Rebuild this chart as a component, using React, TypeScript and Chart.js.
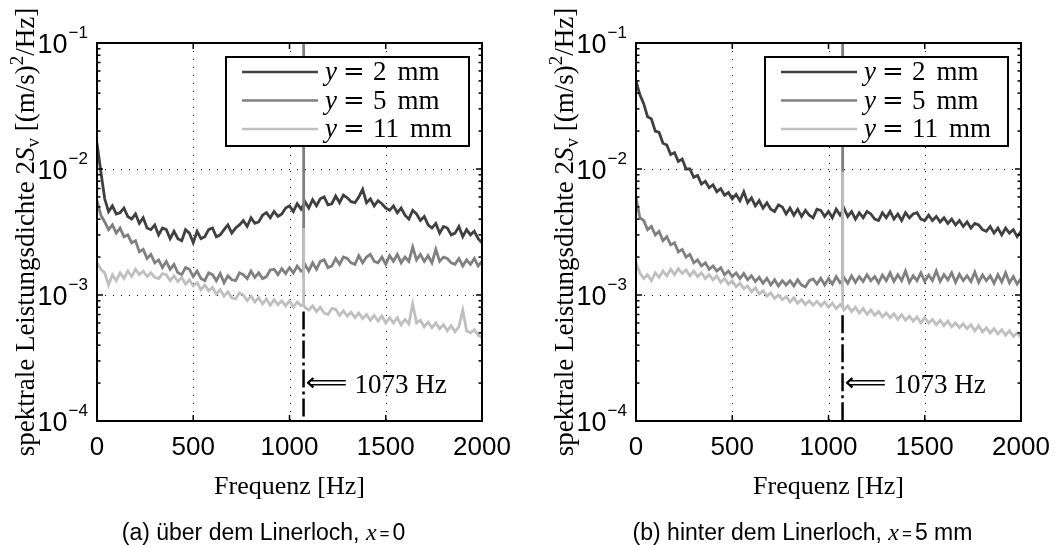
import React, { useEffect, useRef } from "react";
import { Chart, registerables } from "chart.js";

Chart.register(...registerables);

// ---------- data ----------
const FREQ = [
  0, 20, 40, 60, 80, 100, 120, 140, 160, 180,
  200, 220, 240, 260, 280, 300, 320, 340, 360, 380,
  400, 420, 440, 460, 480, 500, 520, 540, 560, 580,
  600, 620, 640, 660, 680, 700, 720, 740, 760, 780,
  800, 820, 840, 860, 880, 900, 920, 940, 960, 980,
  1000, 1020, 1040, 1060, 1072, 1073, 1074, 1080, 1100, 1120,
  1140, 1160, 1180, 1200, 1220, 1240, 1260, 1280, 1300, 1320,
  1340, 1360, 1380, 1400, 1420, 1440, 1460, 1480, 1500, 1520,
  1540, 1560, 1580, 1600, 1620, 1640, 1660, 1680, 1700, 1720,
  1740, 1760, 1780, 1800, 1820, 1840, 1860, 1880, 1900, 1920,
  1940, 1960, 1980, 2000,
];

// (a) über dem Linerloch, x = 0
const A_Y2 = [
  1.6e-2, 9.5e-3, 5.8e-3, 4.6e-3, 5.1e-3, 4.4e-3, 4.5e-3, 4.9e-3, 4.2e-3, 4.0e-3,
  4.4e-3, 3.7e-3, 4.1e-3, 3.4e-3, 3.3e-3, 3.6e-3, 3.0e-3, 3.4e-3, 3.3e-3, 2.8e-3,
  3.2e-3, 2.8e-3, 2.7e-3, 3.3e-3, 3.1e-3, 2.6e-3, 3.2e-3, 2.8e-3, 2.9e-3, 3.3e-3,
  3.4e-3, 2.9e-3, 3.0e-3, 3.3e-3, 3.6e-3, 3.1e-3, 3.4e-3, 3.6e-3, 3.9e-3, 3.5e-3,
  4.1e-3, 3.7e-3, 3.8e-3, 4.3e-3, 4.5e-3, 4.1e-3, 4.6e-3, 4.2e-3, 4.4e-3, 4.9e-3,
  5.1e-3, 4.6e-3, 5.3e-3, 4.8e-3, 5.2e-3, 5.3e-3, 5.2e-3, 5.5e-3, 4.9e-3, 5.7e-3,
  5.1e-3, 5.8e-3, 6.0e-3, 5.2e-3, 5.3e-3, 6.1e-3, 5.4e-3, 6.2e-3, 5.9e-3, 5.5e-3,
  5.4e-3, 6.0e-3, 6.9e-3, 5.4e-3, 5.8e-3, 5.1e-3, 5.6e-3, 5.3e-3, 4.9e-3, 4.7e-3,
  5.1e-3, 4.5e-3, 4.9e-3, 4.3e-3, 4.0e-3, 4.7e-3, 4.4e-3, 3.9e-3, 4.2e-3, 3.6e-3,
  3.4e-3, 3.7e-3, 3.1e-3, 3.5e-3, 3.4e-3, 3.0e-3, 3.1e-3, 3.5e-3, 2.9e-3, 3.3e-3,
  3.0e-3, 3.2e-3, 2.8e-3, 2.6e-3,
];
const A_Y5 = [
  5.6e-3, 4.3e-3, 3.8e-3, 3.3e-3, 3.6e-3, 3.1e-3, 3.4e-3, 2.9e-3, 3.0e-3, 2.6e-3,
  2.7e-3, 2.2e-3, 2.3e-3, 1.95e-3, 2.1e-3, 1.8e-3, 1.9e-3, 1.65e-3, 1.85e-3, 1.6e-3,
  1.75e-3, 1.5e-3, 1.45e-3, 1.65e-3, 1.6e-3, 1.4e-3, 1.55e-3, 1.35e-3, 1.3e-3, 1.5e-3,
  1.45e-3, 1.3e-3, 1.48e-3, 1.25e-3, 1.42e-3, 1.32e-3, 1.3e-3, 1.5e-3, 1.45e-3, 1.35e-3,
  1.55e-3, 1.38e-3, 1.5e-3, 1.35e-3, 1.4e-3, 1.58e-3, 1.6e-3, 1.45e-3, 1.62e-3, 1.48e-3,
  1.65e-3, 1.5e-3, 1.7e-3, 1.55e-3, 1.6e-3, 0.3, 1.6e-3, 1.75e-3, 1.55e-3, 1.8e-3,
  1.6e-3, 1.85e-3, 1.9e-3, 1.65e-3, 1.7e-3, 1.95e-3, 1.75e-3, 2.0e-3, 1.95e-3, 1.8e-3,
  1.75e-3, 2.05e-3, 1.8e-3, 2.0e-3, 2.1e-3, 1.85e-3, 1.8e-3, 2.0e-3, 1.75e-3, 2.05e-3,
  1.85e-3, 2.1e-3, 1.8e-3, 2.0e-3, 1.85e-3, 2.4e-3, 1.9e-3, 2.1e-3, 1.85e-3, 2.05e-3,
  1.8e-3, 2.3e-3, 1.85e-3, 2.0e-3, 1.95e-3, 1.8e-3, 1.75e-3, 1.95e-3, 1.7e-3, 1.9e-3,
  1.75e-3, 1.95e-3, 1.7e-3, 1.85e-3,
];
const A_Y11 = [
  1.8e-3, 1.6e-3, 1.5e-3, 1.2e-3, 1.45e-3, 1.3e-3, 1.5e-3, 1.35e-3, 1.55e-3, 1.4e-3,
  1.6e-3, 1.45e-3, 1.55e-3, 1.4e-3, 1.5e-3, 1.38e-3, 1.35e-3, 1.48e-3, 1.45e-3, 1.3e-3,
  1.42e-3, 1.28e-3, 1.38e-3, 1.22e-3, 1.32e-3, 1.18e-3, 1.25e-3, 1.1e-3, 1.2e-3, 1.08e-3,
  1.15e-3, 1.02e-3, 1.1e-3, 0.98e-3, 1.06e-3, 0.95e-3, 0.93e-3, 1.04e-3, 1.0e-3, 0.9e-3,
  0.98e-3, 0.88e-3, 0.95e-3, 0.85e-3, 0.93e-3, 0.83e-3, 0.92e-3, 0.84e-3, 0.9e-3, 0.82e-3,
  0.9e-3, 0.8e-3, 0.88e-3, 0.82e-3, 0.84e-3, 3.4e-3, 0.84e-3, 0.8e-3, 0.76e-3, 0.82e-3,
  0.74e-3, 0.8e-3, 0.72e-3, 0.7e-3, 0.78e-3, 0.77e-3, 0.69e-3, 0.75e-3, 0.68e-3, 0.73e-3,
  0.66e-3, 0.72e-3, 0.65e-3, 0.7e-3, 0.63e-3, 0.69e-3, 0.62e-3, 0.68e-3, 0.6e-3, 0.66e-3,
  0.6e-3, 0.66e-3, 0.58e-3, 0.64e-3, 0.59e-3, 0.85e-3, 0.6e-3, 0.63e-3, 0.56e-3, 0.61e-3,
  0.55e-3, 0.6e-3, 0.54e-3, 0.58e-3, 0.52e-3, 0.57e-3, 0.51e-3, 0.56e-3, 0.76e-3, 0.52e-3,
  0.5e-3, 0.53e-3, 0.48e-3, 0.46e-3,
];

// (b) hinter dem Linerloch, x = 5 mm
const B_Y2 = [
  5.0e-2, 3.9e-2, 3.3e-2, 2.6e-2, 2.5e-2, 2.0e-2, 1.95e-2, 1.6e-2, 1.55e-2, 1.3e-2,
  1.35e-2, 1.15e-2, 1.2e-2, 1.0e-2, 1.0e-2, 8.6e-3, 8.9e-3, 7.6e-3, 8.0e-3, 7.1e-3,
  7.5e-3, 6.6e-3, 7.0e-3, 6.2e-3, 6.5e-3, 5.8e-3, 6.3e-3, 5.6e-3, 6.6e-3, 5.4e-3,
  5.9e-3, 5.1e-3, 5.6e-3, 4.9e-3, 5.4e-3, 4.8e-3, 4.6e-3, 5.2e-3, 5.0e-3, 4.4e-3,
  4.9e-3, 4.3e-3, 4.8e-3, 4.2e-3, 4.7e-3, 4.3e-3, 4.1e-3, 4.8e-3, 4.7e-3, 4.2e-3,
  4.6e-3, 4.1e-3, 4.8e-3, 4.3e-3, 4.6e-3, 4.6e-3, 4.6e-3, 4.9e-3, 4.2e-3, 4.6e-3,
  4.0e-3, 4.5e-3, 4.1e-3, 4.6e-3, 4.4e-3, 4.0e-3, 3.9e-3, 4.5e-3, 4.1e-3, 4.6e-3,
  4.0e-3, 4.4e-3, 3.9e-3, 4.5e-3, 4.1e-3, 4.4e-3, 4.5e-3, 4.0e-3, 3.9e-3, 4.3e-3,
  3.9e-3, 4.2e-3, 3.8e-3, 4.1e-3, 3.7e-3, 4.0e-3, 3.6e-3, 3.9e-3, 3.5e-3, 3.8e-3,
  3.4e-3, 3.7e-3, 3.6e-3, 3.3e-3, 3.2e-3, 3.5e-3, 3.1e-3, 3.4e-3, 3.0e-3, 3.4e-3,
  3.1e-3, 3.3e-3, 2.9e-3, 3.2e-3,
];
const B_Y5 = [
  6.0e-3, 4.1e-3, 3.9e-3, 3.3e-3, 3.5e-3, 3.0e-3, 3.2e-3, 2.7e-3, 2.9e-3, 2.5e-3,
  2.6e-3, 2.2e-3, 2.3e-3, 2.0e-3, 2.1e-3, 1.8e-3, 1.9e-3, 1.7e-3, 1.8e-3, 1.6e-3,
  1.7e-3, 1.55e-3, 1.65e-3, 1.45e-3, 1.55e-3, 1.4e-3, 1.5e-3, 1.35e-3, 1.48e-3, 1.32e-3,
  1.42e-3, 1.28e-3, 1.38e-3, 1.24e-3, 1.36e-3, 1.2e-3, 1.32e-3, 1.18e-3, 1.3e-3, 1.2e-3,
  1.3e-3, 1.18e-3, 1.32e-3, 1.2e-3, 1.16e-3, 1.3e-3, 1.34e-3, 1.22e-3, 1.36e-3, 1.2e-3,
  1.35e-3, 1.22e-3, 1.4e-3, 1.25e-3, 1.3e-3, 0.3, 1.3e-3, 1.38e-3, 1.24e-3, 1.42e-3,
  1.26e-3, 1.4e-3, 1.28e-3, 1.45e-3, 1.3e-3, 1.4e-3, 1.25e-3, 1.44e-3, 1.3e-3, 1.5e-3,
  1.28e-3, 1.45e-3, 1.3e-3, 1.55e-3, 1.26e-3, 1.42e-3, 1.3e-3, 1.5e-3, 1.28e-3, 1.44e-3,
  1.3e-3, 1.55e-3, 1.28e-3, 1.45e-3, 1.32e-3, 1.5e-3, 1.26e-3, 1.46e-3, 1.3e-3, 1.42e-3,
  1.28e-3, 1.52e-3, 1.26e-3, 1.44e-3, 1.3e-3, 1.42e-3, 1.24e-3, 1.45e-3, 1.27e-3, 1.5e-3,
  1.25e-3, 1.4e-3, 1.22e-3, 1.35e-3,
];
const B_Y11 = [
  1.8e-3, 1.5e-3, 1.35e-3, 1.45e-3, 1.3e-3, 1.5e-3, 1.38e-3, 1.55e-3, 1.42e-3, 1.6e-3,
  1.45e-3, 1.62e-3, 1.48e-3, 1.58e-3, 1.42e-3, 1.55e-3, 1.4e-3, 1.5e-3, 1.35e-3, 1.45e-3,
  1.32e-3, 1.42e-3, 1.26e-3, 1.36e-3, 1.22e-3, 1.3e-3, 1.16e-3, 1.24e-3, 1.12e-3, 1.18e-3,
  1.06e-3, 1.14e-3, 1.02e-3, 1.08e-3, 0.98e-3, 1.04e-3, 0.94e-3, 1.0e-3, 0.92e-3, 0.97e-3,
  0.88e-3, 0.95e-3, 0.86e-3, 0.92e-3, 0.84e-3, 0.9e-3, 0.83e-3, 0.89e-3, 0.82e-3, 0.88e-3,
  0.8e-3, 0.86e-3, 0.78e-3, 0.84e-3, 0.8e-3, 9.5e-3, 0.8e-3, 0.76e-3, 0.82e-3, 0.74e-3,
  0.8e-3, 0.72e-3, 0.78e-3, 0.7e-3, 0.76e-3, 0.69e-3, 0.74e-3, 0.67e-3, 0.72e-3, 0.66e-3,
  0.71e-3, 0.64e-3, 0.7e-3, 0.63e-3, 0.68e-3, 0.62e-3, 0.67e-3, 0.6e-3, 0.66e-3, 0.6e-3,
  0.64e-3, 0.58e-3, 0.63e-3, 0.57e-3, 0.62e-3, 0.56e-3, 0.6e-3, 0.55e-3, 0.59e-3, 0.54e-3,
  0.58e-3, 0.52e-3, 0.57e-3, 0.51e-3, 0.55e-3, 0.5e-3, 0.54e-3, 0.49e-3, 0.53e-3, 0.48e-3,
  0.52e-3, 0.47e-3, 0.5e-3, 0.46e-3,
];

const SERIES_NAMES = ["2", "5", "11"];
const SERIES_COLORS = ["#404040", "#808080", "#bfbfbf"];
const X_TICKS = [0, 500, 1000, 1500, 2000];
const X_GRID = [500, 1000, 1500];
const Y_EXPONENTS = [-4, -3, -2, -1];
const Y_GRID = [1e-3, 1e-2];
const Y_MINOR = [2, 3, 4, 5, 6, 7, 8, 9];
const PEAK_HZ = 1073;
const PEAK_TEXT = "1073 Hz";
const PEAK_ARROW_Y = 1.95e-4;
const PEAK_LINE_TOP = [7.4e-4, 6.9e-4];
const X_TITLE = "Frequenz [Hz]";
const CAPTION_PREFIX = ["(a) über dem Linerloch, ", "(b) hinter dem Linerloch, "];
const CAPTION_VALUE = ["0", "5 mm"];

const SERIF = '"Liberation Serif", "Times New Roman", serif';
const SANS = '"Liberation Sans", Arial, sans-serif';
const H = 545;

type PanelProps = {
  idx: number;
  left: number;
  width: number;
  plotLeft: number;
  plotRight: number;
  series: number[][];
};

function drawSegments(ctx: CanvasRenderingContext2D, segs: { t: string; font: string; dy: number; gap?: number }[], x0: number, y0: number, align: "center" | "left") {
  let total = 0;
  const widths = segs.map((s) => {
    ctx.font = s.font;
    const w = ctx.measureText(s.t).width + (s.gap || 0);
    total += w;
    return w;
  });
  let x = align === "center" ? x0 - total / 2 : x0;
  ctx.textAlign = "left";
  ctx.textBaseline = "alphabetic";
  segs.forEach((s, i) => {
    ctx.font = s.font;
    ctx.fillText(s.t, x + (s.gap || 0) / 2, y0 + s.dy);
    x += widths[i];
  });
}

function Panel({ idx, left, width, plotLeft, plotRight, series }: PanelProps) {
  const ref = useRef<HTMLCanvasElement>(null);

  useEffect(() => {
    const canvas = ref.current;
    if (!canvas) return;

    const line = (ctx: CanvasRenderingContext2D, x1: number, y1: number, x2: number, y2: number) => {
      ctx.beginPath();
      ctx.moveTo(x1, y1);
      ctx.lineTo(x2, y2);
      ctx.stroke();
    };

    const decor = {
      id: "decor" + idx,
      beforeDatasetsDraw(chart: any) {
        const { ctx, chartArea: a } = chart;
        const xs = chart.scales.x;
        const ys = chart.scales.y;
        ctx.save();
        ctx.strokeStyle = "#000";
        ctx.lineWidth = 1;
        ctx.setLineDash([1, 7]);
        X_GRID.forEach((v) => {
          const px = Math.round(xs.getPixelForValue(v)) + 0.5;
          line(ctx, px, a.top, px, a.bottom);
        });
        Y_GRID.forEach((v) => {
          const py = Math.round(ys.getPixelForValue(v)) + 0.5;
          line(ctx, a.left, py, a.right, py);
        });
        ctx.restore();
      },
      afterDatasetsDraw(chart: any) {
        const { ctx, chartArea: a } = chart;
        const xs = chart.scales.x;
        const ys = chart.scales.y;
        ctx.save();
        ctx.fillStyle = "#000";
        ctx.strokeStyle = "#000";

        // marker line at the peak frequency
        const px = xs.getPixelForValue(PEAK_HZ);
        ctx.lineWidth = 2.5;
        ctx.setLineDash([18, 4, 3, 4]);
        line(ctx, px, ys.getPixelForValue(PEAK_LINE_TOP[idx]), px, a.bottom);
        ctx.setLineDash([]);

        // arrow + label
        const ay = ys.getPixelForValue(PEAK_ARROW_Y);
        ctx.font = '26px "DejaVu Sans"';
        const arrow = "\u27F8";
        const aw = ctx.measureText(arrow).width;
        ctx.save();
        ctx.translate(px + 2, ay);
        ctx.scale(42 / aw, 1);
        ctx.textAlign = "left";
        ctx.textBaseline = "middle";
        ctx.fillText(arrow, 0, 0);
        ctx.restore();
        ctx.font = `27px ${SERIF}`;
        ctx.textAlign = "left";
        ctx.textBaseline = "alphabetic";
        ctx.fillText(PEAK_TEXT, px + 51, ay + 9);

        // axes box
        ctx.lineWidth = 2;
        ctx.strokeRect(a.left, a.top, a.right - a.left, a.bottom - a.top);

        // ticks
        ctx.lineWidth = 1.5;
        X_TICKS.forEach((v) => {
          const x = xs.getPixelForValue(v);
          line(ctx, x, a.bottom, x, a.bottom - 6);
          line(ctx, x, a.top, x, a.top + 6);
        });
        Y_EXPONENTS.forEach((e) => {
          const y = ys.getPixelForValue(Math.pow(10, e));
          line(ctx, a.left, y, a.left + 6, y);
          line(ctx, a.right, y, a.right - 6, y);
          if (e < Y_EXPONENTS[Y_EXPONENTS.length - 1]) {
            Y_MINOR.forEach((m) => {
              const ym = ys.getPixelForValue(m * Math.pow(10, e));
              line(ctx, a.left, ym, a.left + 3.5, ym);
              line(ctx, a.right, ym, a.right - 3.5, ym);
            });
          }
        });

        // x tick labels
        ctx.font = `26px ${SANS}`;
        ctx.textAlign = "center";
        ctx.textBaseline = "alphabetic";
        X_TICKS.forEach((v) => ctx.fillText(String(v), xs.getPixelForValue(v), a.bottom + 34));

        // y tick labels 10^e
        Y_EXPONENTS.forEach((e) => {
          const y = ys.getPixelForValue(Math.pow(10, e));
          const right = a.left - 9;
          const expText = (e < 0 ? "\u2212" : "") + Math.abs(e);
          ctx.font = `17px ${SANS}`;
          ctx.textAlign = "right";
          const ew = ctx.measureText(expText).width;
          ctx.fillText(expText, right, y - 5);
          ctx.font = `27px ${SANS}`;
          ctx.fillText("10", right - ew - 1, y + 10);
        });

        // legend
        const bx1 = a.right - 13;
        const bx0 = bx1 - 243;
        const by0 = 57;
        const by1 = 146;
        ctx.fillStyle = "#fff";
        ctx.fillRect(bx0, by0, bx1 - bx0, by1 - by0);
        ctx.lineWidth = 2;
        ctx.strokeStyle = "#000";
        ctx.strokeRect(bx0, by0, bx1 - bx0, by1 - by0);
        SERIES_NAMES.forEach((name, i) => {
          const ry = by0 + 15 + i * 28.5;
          ctx.strokeStyle = SERIES_COLORS[i];
          ctx.lineWidth = 2.5;
          line(ctx, bx0 + 16, ry, bx0 + 92, ry);
          ctx.fillStyle = "#000";
          ctx.textAlign = "left";
          ctx.textBaseline = "alphabetic";
          ctx.font = `italic 27px ${SERIF}`;
          ctx.fillText("y", bx0 + 99, ry + 8);
          ctx.font = '26px "DejaVu Serif"';
          ctx.fillText("=", bx0 + 117, ry + 8);
          ctx.font = `27px ${SERIF}`;
          ctx.fillText(name, bx0 + 147, ry + 8);
          const nw = ctx.measureText(name).width;
          ctx.fillText("mm", bx0 + 147 + nw + 11, ry + 8);
        });
        ctx.restore();
      },
      afterDraw(chart: any) {
        const { ctx, chartArea: a } = chart;
        ctx.save();
        ctx.fillStyle = "#000";
        const cx = (a.left + a.right) / 2;

        // x axis title
        ctx.font = `26px ${SERIF}`;
        ctx.textAlign = "center";
        ctx.textBaseline = "alphabetic";
        ctx.fillText(X_TITLE, cx, 494);

        // y axis title (rotated)
        ctx.save();
        ctx.translate(a.left - 63, (a.top + a.bottom) / 2);
        ctx.rotate(-Math.PI / 2);
        drawSegments(
          ctx,
          [
            { t: "spektrale Leistungsdichte 2", font: `27px ${SERIF}`, dy: 0 },
            { t: "S", font: `italic 27px ${SERIF}`, dy: 0 },
            { t: "v", font: `19px ${SERIF}`, dy: 5 },
            { t: " [(m/s)", font: `27px ${SERIF}`, dy: 0 },
            { t: "2", font: `19px ${SERIF}`, dy: -11 },
            { t: "/Hz]", font: `27px ${SERIF}`, dy: 0 },
          ],
          0,
          0,
          "center"
        );
        ctx.restore();

        // caption
        drawSegments(
          ctx,
          [
            { t: CAPTION_PREFIX[idx], font: `23px ${SANS}`, dy: 0 },
            { t: "x", font: `italic 24px ${SERIF}`, dy: 0 },
            { t: "=", font: `17px ${SANS}`, dy: -1, gap: 6 },
            { t: CAPTION_VALUE[idx], font: `23px ${SANS}`, dy: 0 },
          ],
          cx - 26,
          540,
          "center"
        );
        ctx.restore();
      },
    };

    const chart = new Chart(canvas, {
      type: "line",
      data: {
        datasets: series.map((vals, i) => ({
          label: "y = " + SERIES_NAMES[i] + " mm",
          data: FREQ.map((f, k) => ({ x: f, y: vals[k] })),
          borderColor: SERIES_COLORS[i],
          borderWidth: 2.8,
          pointRadius: 0,
          tension: 0,
          fill: false,
          order: 3 - i,
        })),
      },
      options: {
        animation: false,
        responsive: false,
        devicePixelRatio: 1,
        events: [],
        layout: {
          padding: { left: plotLeft, right: width - plotRight, top: 43, bottom: H - 421 },
        },
        scales: {
          x: { type: "linear", min: 0, max: 2000, display: false },
          y: { type: "logarithmic", min: 1e-4, max: 1e-1, display: false },
        },
        plugins: {
          legend: { display: false },
          tooltip: { enabled: false },
        },
      },
      plugins: [decor],
    } as any);

    return () => chart.destroy();
  }, [idx, left, width, plotLeft, plotRight, series]);

  return (
    <canvas
      ref={ref}
      width={width}
      height={H}
      style={{ position: "absolute", left, top: 0, width, height: H, display: "block" }}
    />
  );
}

const PANEL_A = [A_Y2, A_Y5, A_Y11];
const PANEL_B = [B_Y2, B_Y5, B_Y11];

export default function App() {
  return (
    <div style={{ position: "absolute", left: 0, top: 0, width: 1055, height: H, background: "#fff", overflow: "hidden" }}>
      <Panel idx={0} left={0} width={530} plotLeft={97} plotRight={482} series={PANEL_A} />
      <Panel idx={1} left={530} width={525} plotLeft={106} plotRight={491} series={PANEL_B} />
    </div>
  );
}
